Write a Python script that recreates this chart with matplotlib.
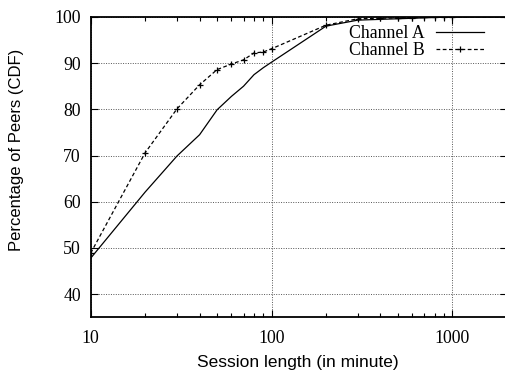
import matplotlib
matplotlib.use('Agg')
import matplotlib.pyplot as plt
from matplotlib.ticker import LogLocator, NullFormatter, FixedLocator

plt.rcParams['figure.dpi'] = 100

# Session length (minutes) and CDF values for each channel
minutes_a = [10, 20, 30, 40, 50, 60, 70, 80, 90, 100, 200, 300, 1000, 2000]
cdf_a = [47.8, 62.1, 69.9, 74.5, 79.9, 82.8, 85.0, 87.5, 89.0, 90.2, 98.0, 99.3, 100.0, 100.0]

minutes_b = [10, 20, 30, 40, 50, 60, 70, 80, 90, 100, 200, 300, 400, 500, 600, 700, 800, 900, 1000, 2000]
cdf_b = [48.9, 70.6, 80.1, 85.3, 88.6, 89.8, 90.7, 92.2, 92.4, 93.1, 98.2, 99.6, 99.7, 99.8, 99.8, 99.9, 99.9, 99.9, 100.0, 100.0]

x_ticks = [10, 100, 1000]
x_tick_labels = ['10', '100', '1000']
y_ticks = [40, 50, 60, 70, 80, 90, 100]

serif = 'Liberation Serif'
sans = 'Liberation Sans'

fig = plt.figure(figsize=(5.05, 3.72))
ax = fig.add_axes([0.1796, 0.147, 0.824, 0.8076])

ax.plot(minutes_a, cdf_a, color='black', linewidth=0.9, label='Channel A')
ax.plot(minutes_b, cdf_b, color='black', linewidth=0.9, linestyle=(0, (3, 2)),
        marker='+', markersize=4.8, markeredgewidth=0.9, label='Channel B')

ax.set_xscale('log')
ax.set_xlim(10, 2000)
ax.set_ylim(35, 100)

ax.xaxis.set_major_locator(FixedLocator(x_ticks))
ax.set_xticklabels(x_tick_labels)
ax.xaxis.set_minor_locator(LogLocator(base=10, subs=range(2, 10)))
ax.xaxis.set_minor_formatter(NullFormatter())
ax.set_yticks(y_ticks)

ax.tick_params(axis='both', which='both', direction='in', top=True, right=True)
ax.tick_params(which='major', length=5, width=0.8)
ax.tick_params(axis='x', which='major', pad=9)
ax.tick_params(axis='y', which='major', pad=7)
ax.tick_params(which='minor', length=3, width=0.8)
for lbl in ax.get_xticklabels() + ax.get_yticklabels():
    lbl.set_fontfamily(serif)
    lbl.set_fontsize(12.8)

for s in ax.spines.values():
    s.set_linewidth(1.3)

ax.grid(True, which='major', color='#555555', linestyle=(0, (1, 1.5)), linewidth=0.7)

ax.set_xlabel('Session length (in minute)', fontfamily=sans, fontsize=12.5, va='center')
ax.xaxis.set_label_coords(0.497, -0.152)
ax.set_ylabel('Percentage of Peers (CDF)', fontfamily=sans, fontsize=12, va='center')
ax.yaxis.set_label_coords(-0.179, 0.557)

leg = ax.legend(loc='upper right', bbox_to_anchor=(0.962, 0.997), frameon=False,
                markerfirst=False, handlelength=2.7, handletextpad=0.6,
                labelspacing=0.0, borderaxespad=0.0,
                prop={'family': serif, 'size': 12.8})

fig.savefig('out.png', dpi=100)
